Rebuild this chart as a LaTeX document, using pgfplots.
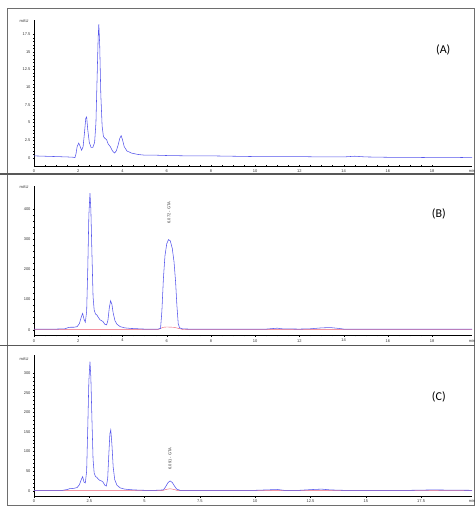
\documentclass[border=0pt]{standalone}
\usepackage{pgfplots}
\pgfplotsset{compat=1.18}
\usepackage{fontspec}
\setmainfont{Liberation Sans}
\newfontfamily\labfont{Carlito}
\definecolor{trace}{RGB}{85,85,235}
\definecolor{reftrace}{RGB}{235,90,110}
\definecolor{frame}{RGB}{110,110,110}
\pgfplotsset{
  chrom/.style={
    scale only axis, anchor=south west,
    axis x line=bottom, axis y line=left,
    axis line style={-, black, line width=0.4pt},
    xmin=0, xmax=19.8,
    tick style={black, line width=0.3pt},
    major tick length=2pt, minor tick length=1.2pt,
    tick label style={font=\fontsize{4}{4}\selectfont, text=black!80},
    /pgf/number format/assume math mode=true,
    /pgf/number format/fixed,
    xticklabel shift=-1pt, yticklabel shift=-1pt,
    minor y tick num=4,
    clip=false,
  },
  tr/.style={trace, line width=0.55pt, no markers},
  rtr/.style={reftrace, line width=0.4pt, no markers},
}
\begin{document}
\begin{tikzpicture}[x=1pt,y=1pt]
\useasboundingbox (0pt,0pt) rectangle (475pt,512pt);
% frame and separators
\draw[frame, line width=0.6pt] (7pt,6.3pt) rectangle (474pt,504pt);
\draw[frame!80!black, line width=1.6pt] (0pt,338pt) -- (475pt,338pt);
\draw[frame!80!black, line width=1.6pt] (0pt,166.5pt) -- (475pt,166.5pt);

% ---------- (A)
\begin{axis}[chrom, at={(34pt,346pt)}, width=438pt, height=146pt,
  ymin=-1.13, ymax=19.5,
  xtick={0,2,...,18}, minor x tick num=3,
  ytick={0,2.5,...,17.5}]
\addplot[tr] coordinates {
(0,0.3) (0.5,0.25) (1,0.2) (1.5,0.15) (1.8,0.1) (1.85,0.05) (1.9,0.6) (1.95,1.6)
(2.02,2.1) (2.08,1.7) (2.15,1.1) (2.22,1.6) (2.28,3.5) (2.34,5.6) (2.38,5.8)
(2.43,4.0) (2.5,2.2) (2.58,1.5) (2.66,1.5) (2.74,2.2) (2.8,5) (2.85,11) (2.9,17)
(2.93,18.9) (2.97,16) (3.02,9) (3.08,4.5) (3.14,3.0) (3.2,2.8) (3.28,2.6)
(3.35,2.0) (3.45,1.6) (3.55,1.0) (3.64,0.7) (3.72,1.0) (3.8,1.8) (3.88,2.8)
(3.94,3.15) (4.0,2.6) (4.08,1.6) (4.2,1.0) (4.4,0.7) (4.7,0.5) (5,0.4) (5.5,0.4)
(6,0.35) (7,0.3) (8,0.3) (9,0.25) (10,0.2) (11,0.2) (12,0.2) (13,0.15) (14,0.15)
(14.5,0.25) (15,0.15) (16,0.1) (17,0.1) (18,0.05) (19,0.05) (19.8,0.1)
};
\node[font=\fontsize{4}{4}\selectfont, anchor=east, text=black!80] at (rel axis cs:0,0.99) {mAU\kern2pt};
\node[font=\fontsize{4}{4}\selectfont, anchor=north, text=black!80] at (axis cs:19.8,-1.13) {min};
\node[font=\labfont\fontsize{12}{12}\selectfont] at (axis cs:18.5,15.3) {(A)};
\end{axis}

% ---------- (B)
\begin{axis}[chrom, at={(34pt,176.3pt)}, width=438pt, height=149.7pt,
  ymin=-20, ymax=477,
  xtick={0,2,...,18}, minor x tick num=3,
  ytick={0,100,...,400}]
\addplot[rtr] coordinates {
(0,0) (5.6,0) (5.72,4) (5.85,8) (6.0,9) (6.3,8) (6.5,5) (6.7,1) (6.9,0) (19.8,0)
};
\addplot[tr] coordinates {
(0,2) (1,2) (1.4,3) (1.55,7) (1.65,8) (1.8,8) (1.95,10) (2.05,20) (2.15,45)
(2.2,54) (2.26,35) (2.32,25) (2.38,60) (2.43,200) (2.48,380) (2.53,453) (2.57,400)
(2.62,250) (2.67,110) (2.72,65) (2.78,52) (2.84,49) (2.9,42) (2.98,33) (3.05,30)
(3.12,27) (3.2,18) (3.28,16) (3.34,30) (3.4,70) (3.46,96) (3.52,85) (3.58,55)
(3.66,30) (3.75,18) (3.9,10) (4.1,6) (4.4,4) (5,2) (5.6,2) (5.72,4) (5.78,60)
(5.85,170) (5.92,245) (6.0,285) (6.08,299) (6.16,295) (6.25,270) (6.33,225)
(6.4,160) (6.46,80) (6.52,20) (6.58,6) (6.7,3) (7,2) (8,2) (9,2) (10,2) (10.5,2)
(11,5) (11.2,3) (12,2) (12.5,3) (13,6) (13.4,7) (13.8,4) (14,2) (15,2) (16,2)
(17,2) (18,2) (19.8,2)
};
\node[font=\fontsize{4}{4}\selectfont, anchor=west, rotate=90, text=black!80] at (axis cs:6.1,341) {6.072 - GTA};
\node[font=\fontsize{4}{4}\selectfont, anchor=east, text=black!80] at (rel axis cs:0,0.99) {mAU\kern2pt};
\node[font=\fontsize{4}{4}\selectfont, anchor=north, text=black!80] at (axis cs:19.8,-20) {min};
\node[font=\labfont\fontsize{12}{12}\selectfont] at (axis cs:18.3,385) {(B)};
\end{axis}

% ---------- (C)
\begin{axis}[chrom, at={(34pt,15.5pt)}, width=438pt, height=141.5pt,
  ymin=-14.8, ymax=346,
  xtick={0,2.5,...,17.5}, minor x tick num=4,
  ytick={0,50,...,300}]
\addplot[rtr] coordinates {
(0,0) (5.8,0) (5.95,3) (6.15,5) (6.35,3) (6.5,0) (19.8,0)
};
\addplot[tr] coordinates {
(0,1) (1.3,1) (1.5,3) (1.6,5) (1.8,6) (1.95,8) (2.05,15) (2.15,30) (2.2,36)
(2.26,22) (2.32,20) (2.38,50) (2.43,160) (2.48,280) (2.53,329) (2.57,290)
(2.62,180) (2.67,80) (2.72,45) (2.78,36) (2.84,34) (2.9,30) (2.98,26) (3.05,25)
(3.12,22) (3.2,14) (3.27,12) (3.33,30) (3.38,90) (3.43,145) (3.47,155) (3.52,120)
(3.58,60) (3.65,28) (3.75,14) (3.9,7) (4.1,4) (4.5,2) (5,1) (5.5,1) (5.85,2)
(5.95,10) (6.05,20) (6.15,25) (6.25,21) (6.35,12) (6.45,4) (6.6,1) (7,1) (8,1)
(10,1) (11,3) (11.3,1) (12,1) (12.6,3) (13,4) (13.4,2) (14,1) (17,1) (18,2)
(19.8,1)
};
\node[font=\fontsize{4}{4}\selectfont, anchor=west, rotate=90, text=black!80] at (axis cs:6.15,45) {6.091 - GTA};
\node[font=\fontsize{4}{4}\selectfont, anchor=east, text=black!80] at (rel axis cs:0,0.97) {mAU\kern2pt};
\node[font=\fontsize{4}{4}\selectfont, anchor=north, text=black!80] at (axis cs:19.8,-14.8) {min};
\node[font=\labfont\fontsize{12}{12}\selectfont] at (axis cs:18.3,238) {(C)};
\end{axis}
\end{tikzpicture}
\end{document}
